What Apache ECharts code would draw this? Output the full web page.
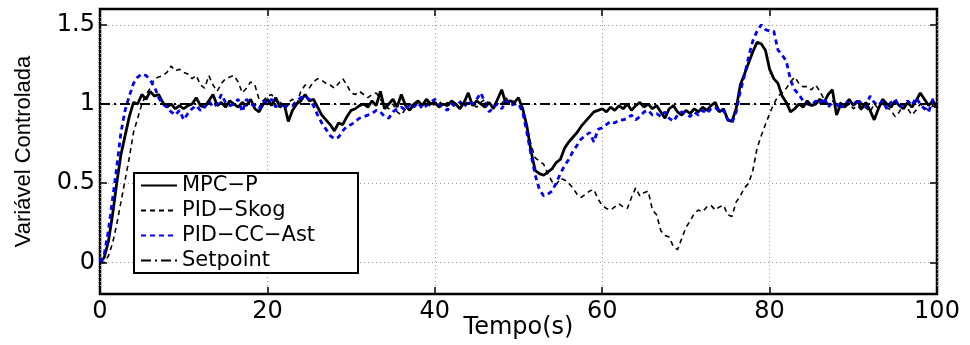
<!DOCTYPE html>
<html>
<head>
<meta charset="utf-8">
<script src="https://cdn.jsdelivr.net/npm/echarts@6/dist/echarts.min.js"></script>
<style>
html,body{margin:0;padding:0;background:#fff;}
#c{width:970px;height:345px;}
</style>
</head>
<body>
<div id="c"></div>
<script>
// Time axis (s)
const tempo = [
0,0.5,1,1.5,2,2.5,3,3.5,4,4.5,5,5.5,6,6.5,7,7.5,8,8.5,9,9.5,
10,10.5,11,11.5,12,12.5,13,13.5,14,14.5,15,15.5,16,16.5,17,17.5,18,18.5,19,19.5,
20,20.5,21,21.5,22,22.5,23,23.5,24,24.5,25,25.5,26,26.5,27,27.5,28,28.5,29,29.5,
30,30.5,31,31.5,32,32.5,33,33.5,34,34.5,35,35.5,36,36.5,37,37.5,38,38.5,39,39.5,
40,40.5,41,41.5,42,42.5,43,43.5,44,44.5,45,45.5,46,46.5,47,47.5,48,48.5,49,49.5,
50,50.5,51,51.5,52,52.5,53,53.5,54,54.5,55,55.5,56,56.5,57,57.5,58,58.5,59,59.5,
60,60.5,61,61.5,62,62.5,63,63.5,64,64.5,65,65.5,66,66.5,67,67.5,68,68.5,69,69.5,
70,70.5,71,71.5,72,72.5,73,73.5,74,74.5,75,75.5,76,76.5,77,77.5,78,78.5,79,79.5,
80,80.5,81,81.5,82,82.5,83,83.5,84,84.5,85,85.5,86,86.5,87,87.5,88,88.5,89,89.5,
90,90.5,91,91.5,92,92.5,93,93.5,94,94.5,95,95.5,96,96.5,97,97.5,98,98.5,99,99.5,
100];

const mpcP = [
0,0.03,0.13,0.3,0.5,0.68,0.8,0.92,1.01,1.0,1.06,1.03,1.08,1.05,1.06,1.01,0.98,1.0,0.97,0.99,
0.97,0.99,1.0,1.04,0.99,0.98,1.02,1.06,0.99,1.01,0.98,1.02,1.0,0.98,1.01,0.99,1.03,0.97,0.95,1.0,
1.03,0.99,1.04,0.98,1.0,0.89,0.96,1.0,1.02,1.06,1.02,1.03,0.98,0.93,0.9,0.87,0.83,0.88,0.87,0.92,
0.96,0.97,0.99,1.0,0.98,1.02,0.99,1.08,0.97,1.0,1.03,0.98,1.06,0.99,0.96,1.0,1.02,0.99,1.03,1.0,
1.01,0.98,1.0,0.99,1.02,1.0,0.97,1.01,1.07,0.99,1.02,1.0,0.98,1.01,0.97,1.03,1.09,1.0,1.02,1.01,
1.04,0.97,0.86,0.7,0.58,0.56,0.55,0.57,0.59,0.63,0.65,0.72,0.76,0.79,0.82,0.86,0.89,0.92,0.95,0.96,
0.97,0.95,0.98,0.96,0.99,0.97,1.0,0.96,0.99,1.01,0.98,1.0,0.97,0.99,0.95,0.91,0.97,0.99,0.95,0.93,
0.96,0.94,0.97,0.95,0.98,0.96,0.99,1.01,0.95,0.97,0.9,0.89,0.97,1.12,1.19,1.26,1.33,1.39,1.38,1.34,
1.22,1.16,1.13,1.05,1.01,0.95,0.97,1.0,0.98,1.02,0.99,1.0,1.03,1.01,1.06,1.09,0.93,1.0,0.98,1.03,
0.99,1.02,0.97,1.01,0.96,0.9,0.97,1.03,1.0,0.98,1.02,0.99,0.97,1.01,0.98,1.02,1.07,1.03,0.99,1.02,
0.98];

const pidSkog = [
0,0.0,0.04,0.12,0.24,0.38,0.52,0.66,0.82,0.91,1.0,1.06,1.1,1.16,1.17,1.18,1.2,1.24,1.21,1.22,
1.2,1.19,1.16,1.18,1.12,1.1,1.18,1.12,1.08,1.13,1.16,1.17,1.18,1.14,1.07,1.1,1.14,1.12,1.03,1.02,
1.05,1.06,1.02,1.0,0.99,1.01,1.03,1.0,1.08,1.12,1.1,1.14,1.16,1.15,1.13,1.12,1.1,1.13,1.16,1.12,
1.07,1.06,1.08,1.06,1.04,1.06,1.07,1.03,0.99,0.97,1.0,0.95,0.93,0.97,1.0,0.98,1.01,0.99,1.02,0.98,
1.0,1.02,0.99,1.01,0.98,1.0,1.02,0.99,1.01,1.0,0.98,1.01,1.03,1.0,0.99,1.02,1.0,1.04,1.0,1.01,
1.0,0.96,0.86,0.74,0.66,0.64,0.62,0.56,0.51,0.49,0.53,0.52,0.5,0.47,0.43,0.41,0.43,0.45,0.46,0.4,
0.36,0.34,0.33,0.35,0.37,0.35,0.34,0.41,0.47,0.42,0.44,0.45,0.33,0.3,0.2,0.17,0.16,0.1,0.08,0.15,
0.22,0.26,0.31,0.33,0.32,0.35,0.36,0.33,0.35,0.36,0.3,0.29,0.38,0.42,0.47,0.5,0.58,0.72,0.8,0.87,
0.94,1.0,1.05,1.07,1.1,1.14,1.17,1.13,1.11,1.11,1.09,1.12,1.08,1.03,1.0,1.02,0.99,1.01,0.98,1.0,
0.97,0.99,0.96,0.98,0.95,1.0,0.97,1.01,0.98,0.96,0.92,0.95,1.0,0.97,0.93,0.96,1.0,0.98,0.96,0.99,
0.97];

const pidCCAst = [
0,0.05,0.2,0.4,0.6,0.82,0.96,1.05,1.13,1.17,1.19,1.18,1.15,1.11,1.04,1.0,0.98,0.95,0.93,0.96,
0.9,0.94,0.97,0.99,0.96,0.98,1.02,0.98,1.0,1.06,1.01,0.99,1.0,1.03,0.95,1.03,1.0,0.99,0.97,1.02,
1.0,1.03,0.98,1.01,0.97,1.0,0.99,1.02,1.04,1.05,1.03,0.99,0.93,0.88,0.84,0.8,0.78,0.79,0.83,0.86,
0.87,0.89,0.91,0.92,0.93,0.94,0.96,0.95,0.92,0.91,0.95,0.97,0.98,0.96,1.0,0.98,1.01,0.97,0.99,1.01,
1.03,1.0,0.98,0.96,1.0,0.99,1.01,0.98,1.02,1.0,1.03,1.07,1.01,0.95,0.98,1.0,0.97,1.02,0.99,1.0,
1.0,0.95,0.82,0.68,0.55,0.46,0.42,0.43,0.45,0.5,0.56,0.61,0.65,0.7,0.74,0.78,0.8,0.82,0.76,0.84,
0.85,0.87,0.89,0.88,0.9,0.9,0.91,0.93,0.9,0.92,0.95,0.96,0.93,0.94,0.92,0.95,0.91,0.89,0.93,0.95,
0.94,0.92,0.95,0.93,0.96,0.94,0.97,0.98,0.95,0.96,0.9,0.88,0.95,1.08,1.18,1.3,1.4,1.46,1.5,1.47,
1.46,1.46,1.34,1.31,1.27,1.15,1.09,1.06,1.02,1.0,0.99,1.02,1.0,1.04,0.98,1.01,1.0,0.97,1.02,1.0,
0.99,1.03,1.0,0.98,1.05,1.01,0.99,1.02,0.97,1.01,1.03,0.98,1.0,1.02,0.99,1.04,1.0,0.97,0.95,1.03,
1.01];

const setpointTempo = [0, 100];
const setpointValor = [1, 1];

const xTicks = [0, 20, 40, 60, 80, 100];
const yTicks = [0, 0.5, 1, 1.5];

const seriesNames = ['MPC\u2212P', 'PID\u2212Skog', 'PID\u2212CC\u2212Ast', 'Setpoint'];

const pairs = (t, v) => t.map((x, i) => [x, v[i]]);

const chart = echarts.init(document.getElementById('c'), null, {renderer: 'canvas'});
const gridLine = {show: true, lineStyle: {color: '#9a9a9a', type: [1, 3], width: 1}};
const tickStyle = {show: true, inside: true, length: 7, lineStyle: {color: '#000', width: 1.5}};
const noLine = {show: false, onZero: false};
const font = 'DejaVu Sans';

chart.setOption({
  animation: false,
  backgroundColor: '#fff',
  grid: {left: 100, right: 33, top: 9, bottom: 51, show: true, borderColor: '#000', borderWidth: 2.5,
         containLabel: false, outerBoundsMode: 'none'},
  xAxis: [{
    type: 'value', min: 0, max: 100, interval: 20, position: 'bottom',
    name: 'Tempo(s)', nameLocation: 'middle', nameGap: 22, nameMoveOverlap: false,
    nameTextStyle: {fontFamily: font, fontSize: 24, color: '#000'},
    axisLine: noLine,
    axisTick: Object.assign({customValues: xTicks}, tickStyle),
    axisLabel: {customValues: xTicks, fontFamily: font, fontSize: 24, color: '#000', margin: 6},
    splitLine: gridLine
  }, {
    type: 'value', position: 'top', min: 0, max: 100, interval: 20,
    axisLine: noLine, axisTick: Object.assign({customValues: xTicks}, tickStyle),
    axisLabel: {show: false}, splitLine: {show: false}
  }],
  yAxis: [{
    type: 'value', min: -0.2, max: 1.6, position: 'left',
    name: 'Vari\u00e1vel Controlada', nameLocation: 'middle', nameGap: 65, nameMoveOverlap: false,
    nameTextStyle: {fontFamily: 'Liberation Sans', fontSize: 22, color: '#000'},
    axisLine: noLine,
    axisTick: Object.assign({customValues: yTicks}, tickStyle),
    axisLabel: {customValues: yTicks, fontFamily: font, fontSize: 24, color: '#000', margin: 5},
    splitLine: Object.assign({customValues: yTicks}, gridLine)
  }, {
    type: 'value', position: 'right', min: -0.2, max: 1.6,
    axisLine: noLine,
    axisTick: Object.assign({customValues: yTicks}, tickStyle),
    axisLabel: {show: false}, splitLine: {show: false}
  }],
  legend: {
    orient: 'vertical', left: 134, top: 173,
    data: seriesNames,
    itemWidth: 36, itemHeight: 12, itemGap: 2,
    padding: [1, 6, 1, 6],
    backgroundColor: '#fff', borderColor: '#000', borderWidth: 2,
    itemStyle: {opacity: 0},
    textStyle: {fontFamily: font, fontSize: 21, color: '#000', lineHeight: 23, width: 170}
  },
  series: [{
    name: seriesNames[0], type: 'line', data: pairs(tempo, mpcP),
    showSymbol: false, symbol: 'none', z: 3,
    lineStyle: {color: '#000', width: 2.8, type: 'solid'}, itemStyle: {color: '#000'}
  }, {
    name: seriesNames[1], type: 'line', data: pairs(tempo, pidSkog),
    showSymbol: false, symbol: 'none', z: 4,
    lineStyle: {color: '#000', width: 1.6, type: [5, 4]}, itemStyle: {color: '#000'}
  }, {
    name: seriesNames[2], type: 'line', data: pairs(tempo, pidCCAst),
    showSymbol: false, symbol: 'none', z: 5,
    lineStyle: {color: '#0000ff', width: 2.8, type: [5, 4]}, itemStyle: {color: '#0000ff'}
  }, {
    name: seriesNames[3], type: 'line', data: pairs(setpointTempo, setpointValor),
    showSymbol: false, symbol: 'none', z: 6,
    lineStyle: {color: '#000', width: 1.8, type: [10, 4, 2, 4]}, itemStyle: {color: '#000'}
  }]
});
</script>
</body>
</html>
